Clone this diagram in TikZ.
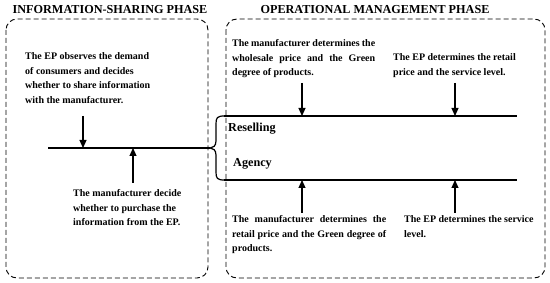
\documentclass[tikz,border=0pt]{standalone}
\usepackage{fontspec}
\setmainfont{Liberation Serif}
\usetikzlibrary{arrows.meta}
\newcommand{\jline}[2]{\makebox[#1][s]{#2}}
\begin{document}
\begin{tikzpicture}[x=1pt,y=-1pt,
  txt/.style={anchor=north west,inner sep=0pt,align=left,font=\bfseries\fontsize{10}{14.5}\selectfont},
  ttl/.style={inner sep=0pt,font=\bfseries\fontsize{12.2}{14}\selectfont},
  lbl/.style={anchor=west,inner sep=0pt,font=\bfseries\fontsize{12.2}{14}\selectfont},
  phase/.style={draw,dashed,dash pattern=on 5pt off 3pt,line width=0.9pt,rounded corners=11pt},
  ln/.style={line width=1.2pt},
  arr/.style={line width=1.2pt,-{Triangle[width=7pt,length=8pt]}}]
\useasboundingbox (0,0) rectangle (550,283);
% phases
\draw[phase] (6,19) rectangle (208,278);
\draw[phase] (226,19) rectangle (545,278);
\node[ttl] (t1) at (110,10) {INFORMATION-SHARING PHASE};
\node[ttl] (t2) at (375,10) {OPERATIONAL MANAGEMENT PHASE};
% texts
\node[txt] (a) at (25,52.5) {The EP observes the demand\\of consumers and decides\\whether to share information\\with the manufacturer.};
\node[txt] (b) at (73,189.5) {The manufacturer decide\\whether to purchase the\\information from the EP.};
\node[txt] (c) at (232,39.5) {\jline{143pt}{The manufacturer determines the}\\\jline{143pt}{wholesale price and the Green}\\degree of products.};
\node[txt] (d) at (393,53.5) {The EP determines the retail\\price and the service level.};
\node[txt] (e) at (232,215.5) {\jline{154pt}{The manufacturer determines the}\\\jline{154pt}{retail price and the Green degree of}\\products.};
\node[txt] (f) at (404,215.5) {The EP determines the service\\level.};
\node[lbl] (res) at (228,129) {Reselling};
\node[lbl] (agy) at (233,164) {Agency};
% lines
\coordinate (L0) at (48,148);
\coordinate (tip) at (210,148);
\coordinate (T0) at (224,116);
\coordinate (T1) at (517,116);
\coordinate (B0) at (224,180);
\coordinate (B1) at (517,180);
\draw[ln] (L0) -- (tip);
\draw[ln] (T0) .. controls (217,116) and (216,118) .. (216,124) -- (216,141)
  .. controls (216,146) and (213,148) .. (tip)
  .. controls (213,148) and (216,150) .. (216,155) -- (216,172)
  .. controls (216,178) and (217,180) .. (B0);
\draw[ln] (T0) -- (T1);
\draw[ln] (B0) -- (B1);
% arrows
\coordinate (a1s) at (83,116); \coordinate (a1e) at (83,148);
\coordinate (a2s) at (133,183); \coordinate (a2e) at (133,148);
\coordinate (a3s) at (302,83); \coordinate (a3e) at (302,116);
\coordinate (a4s) at (455,83); \coordinate (a4e) at (455,116);
\coordinate (a5s) at (302,213); \coordinate (a5e) at (302,180);
\coordinate (a6s) at (455,213); \coordinate (a6e) at (455,180);
\draw[arr] (a1s) -- (a1e);
\draw[arr] (a2s) -- (a2e);
\draw[arr] (a3s) -- (a3e);
\draw[arr] (a4s) -- (a4e);
\draw[arr] (a5s) -- (a5e);
\draw[arr] (a6s) -- (a6e);
\end{tikzpicture}
\end{document}
